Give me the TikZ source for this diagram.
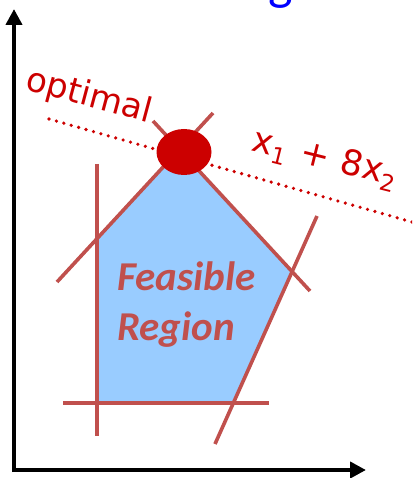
\documentclass[tikz,border=0pt]{standalone}
\usepackage{fontspec}
\setmainfont{DejaVu Sans}
\newfontfamily\calfont{Carlito}
\usetikzlibrary{arrows.meta,shapes.geometric}
\definecolor{cred}{HTML}{C0504D}
\definecolor{dred}{HTML}{CC0000}
\definecolor{fillblue}{HTML}{99CCFF}
\newcommand{\lpsub}[1]{\raisebox{-7pt}{\fontsize{23}{24}\selectfont #1}}
\begin{document}
\begin{tikzpicture}[x=1pt,y=-1pt,
  conline/.style={cred,line width=3.6pt},
  axisline/.style={black,line width=4pt,-{Triangle[length=16pt,width=16pt]}},
  lbl/.style={dred,font=\fontsize{35}{40}\selectfont,inner sep=0pt},
  feas/.style={cred,font=\calfont\bfseries\itshape\fontsize{41}{48}\selectfont,inner sep=0pt,anchor=base west}]
\useasboundingbox (0,0) rectangle (412,478);
\clip (0,0) rectangle (412,478);
% title fragment
\node[blue,font=\calfont\fontsize{52}{60}\selectfont,inner sep=0pt,anchor=base] (title) at (281,0) {g};
% constraint endpoints
\coordinate (v1) at (97,164);   \coordinate (v2) at (97,436);
\coordinate (h1) at (63,403);   \coordinate (h2) at (269,403);
\coordinate (l1) at (57,282);   \coordinate (l2) at (213,113);
\coordinate (r1) at (153,121);  \coordinate (r2) at (310,291);
\coordinate (s1) at (317,216);  \coordinate (s2) at (215,444);
% feasible polygon vertices
\coordinate (pt) at (179,150);
\coordinate (pl) at (97,239);
\coordinate (pbl) at (97,403);
\coordinate (pbr) at (233,403);
\coordinate (pr) at (292,272);
\fill[fillblue] (pt) -- (pl) -- (pbl) -- (pbr) -- (pr) -- cycle;
% axes
\coordinate (o) at (14,470);
\coordinate (ytip) at (14,9);
\coordinate (xtip) at (366,470);
\draw[axisline] ([yshift=-2pt]o) -- (ytip);
\draw[axisline] ([xshift=-2pt]o) -- (xtip);
% constraints
\draw[conline] (v1) -- (v2);
\draw[conline] (h1) -- (h2);
\draw[conline] (l1) -- (l2);
\draw[conline] (r1) -- (r2);
\draw[conline] (s1) -- (s2);
% objective line
\coordinate (d1) at (49,119);
\coordinate (d2) at (412,222);
\draw[dred,line width=3.6pt,line cap=round,dash pattern=on 0pt off 7.7pt] (d1) -- (d2);
% optimum
\node[ellipse,fill=dred,minimum width=55pt,minimum height=46pt,inner sep=0pt] (opt) at (184,152) {};
% labels
\node[lbl,font=\fontsize{34}{40}\selectfont,rotate=-15] (optlbl) at (89,97) {optimal};
\node[lbl,rotate=-14] (objlbl) at (325,159) {x\lpsub{1}\hspace{14pt}+\hspace{12pt}8x\lpsub{2}};
\node[feas] (feas1) at (117,290) {Feasible};
\node[feas] (feas2) at (117,340) {Region};
\end{tikzpicture}
\end{document}
